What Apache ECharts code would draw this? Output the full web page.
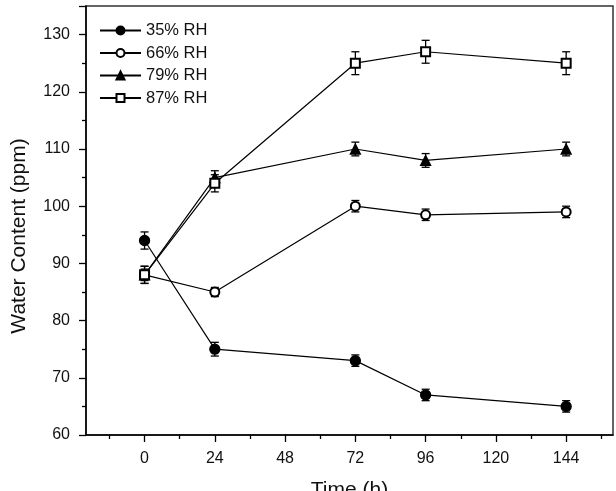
<!DOCTYPE html>
<html>
<head>
<meta charset="utf-8">
<script src="https://cdn.jsdelivr.net/npm/echarts@6/dist/echarts.min.js"></script>
<style>
  html, body { margin: 0; padding: 0; background: #fff; }
  #main { width: 616px; height: 491px; }
</style>
</head>
<body>
<div id="main"></div>
<script>
// time points (h)
var times = [0, 24, 72, 96, 144];
var xMajorTicks = [0, 24, 48, 72, 96, 120, 144];
var xMinorTicks = [-12, 12, 36, 60, 84, 108, 132, 156];

var seriesNames = ['35% RH', '66% RH', '79% RH', '87% RH'];
var rh35 = [94, 75, 73, 67, 65];
var rh66 = [88, 85, 100, 98.5, 99];
var rh79 = [88, 105, 110, 108, 110];
var rh87 = [88, 104, 125, 127, 125];

var err35 = [1.5, 1.2, 1.0, 1.0, 1.0];
var err66 = [1.0, 0.8, 1.0, 1.0, 1.0];
var err79 = [1.5, 1.2, 1.2, 1.2, 1.2];
var err87 = [1.5, 1.5, 2.0, 2.0, 2.0];

var symbols = ['circle', 'emptyCircle', 'triangle', 'emptyRect'];
var sizes = [10, 9, 10, 9];

var FONT = 'Liberation Sans, Arial, sans-serif';

var myChart = echarts.init(document.getElementById('main'));

function pts(vals) {
    return vals.map(function (v, i) { return [times[i], v]; });
}
function errPts(vals, errs) {
    return vals.map(function (v, i) { return [times[i], v - errs[i], v + errs[i]]; });
}
function renderErr(params, api) {
    var lo = api.coord([api.value(0), api.value(1)]);
    var hi = api.coord([api.value(0), api.value(2)]);
    var w = 4;
    var st = { stroke: '#000', lineWidth: 1.3 };
    return {
        type: 'group',
        children: [
            { type: 'line', shape: { x1: lo[0], y1: lo[1], x2: hi[0], y2: hi[1] }, style: st },
            { type: 'line', shape: { x1: lo[0] - w, y1: lo[1], x2: lo[0] + w, y2: lo[1] }, style: st },
            { type: 'line', shape: { x1: hi[0] - w, y1: hi[1], x2: hi[0] + w, y2: hi[1] }, style: st }
        ]
    };
}

var values = [rh35, rh66, rh79, rh87];
var errs = [err35, err66, err79, err87];
var series = [];
values.forEach(function (vals, k) {
    series.push({
        name: 'err ' + seriesNames[k],
        type: 'custom',
        xAxisIndex: 0,
        renderItem: renderErr,
        data: errPts(vals, errs[k]),
        z: 2,
        silent: true
    });
});
values.forEach(function (vals, k) {
    series.push({
        name: seriesNames[k],
        type: 'line',
        xAxisIndex: 0,
        data: pts(vals),
        symbol: symbols[k],
        symbolSize: sizes[k],
        showAllSymbol: true,
        lineStyle: { color: '#000', width: 1.2 },
        itemStyle: { color: '#000', borderColor: '#000', borderWidth: 1.3 },
        z: 3
    });
});

var option = {
    backgroundColor: '#fff',
    animation: false,
    color: ['#000'],
    textStyle: { fontFamily: FONT },
    grid: {
        left: 86, top: 6, right: 3, bottom: 56,
        outerBoundsMode: 'none', containLabel: false,
        show: true, borderColor: '#333', borderWidth: 1.5
    },
    legend: {
        orient: 'vertical',
        left: 94,
        top: 17,
        itemWidth: 41,
        itemHeight: 10,
        itemGap: 5.5,
        data: seriesNames,
        textStyle: { fontSize: 16.5, color: '#111', fontFamily: FONT }
    },
    // y title sits a bit below the plot's centre in the original
    graphic: [{
        type: 'text',
        rotation: Math.PI / 2,
        x: 19,
        y: 236,
        style: {
            text: 'Water Content (ppm)',
            font: '21px ' + FONT,
            fill: '#111',
            textAlign: 'center',
            textVerticalAlign: 'middle'
        }
    }],
    xAxis: [{
        type: 'value',
        min: -20,
        max: 160,
        name: 'Time (h)',
        nameLocation: 'middle',
        nameGap: 45,
        nameTextStyle: { fontSize: 21, color: '#111' },
        splitLine: { show: false },
        axisLine: { onZero: false, lineStyle: { color: '#000', width: 1.5 } },
        axisTick: { show: true, length: 7, lineStyle: { color: '#000', width: 1.3 }, customValues: xMajorTicks },
        axisLabel: { customValues: xMajorTicks, margin: 16, fontSize: 16, color: '#111' }
    }, {
        type: 'value',
        min: -20,
        max: 160,
        position: 'bottom',
        splitLine: { show: false },
        axisLine: { show: false, onZero: false },
        axisTick: { show: true, length: 4, lineStyle: { color: '#000', width: 1.3 }, customValues: xMinorTicks },
        axisLabel: { show: false }
    }],
    yAxis: {
        type: 'value',
        min: 60,
        max: 135,
        interval: 10,
        splitLine: { show: false },
        axisLine: { onZero: false, lineStyle: { color: '#000', width: 1.5 } },
        axisTick: { length: 7, lineStyle: { color: '#000', width: 1.3 } },
        minorTick: { show: true, splitNumber: 2, length: 4, lineStyle: { color: '#000', width: 1.3 } },
        axisLabel: { margin: 16, fontSize: 16, color: '#111', showMaxLabel: false }
    },
    series: series
};

myChart.setOption(option);
</script>
</body>
</html>
